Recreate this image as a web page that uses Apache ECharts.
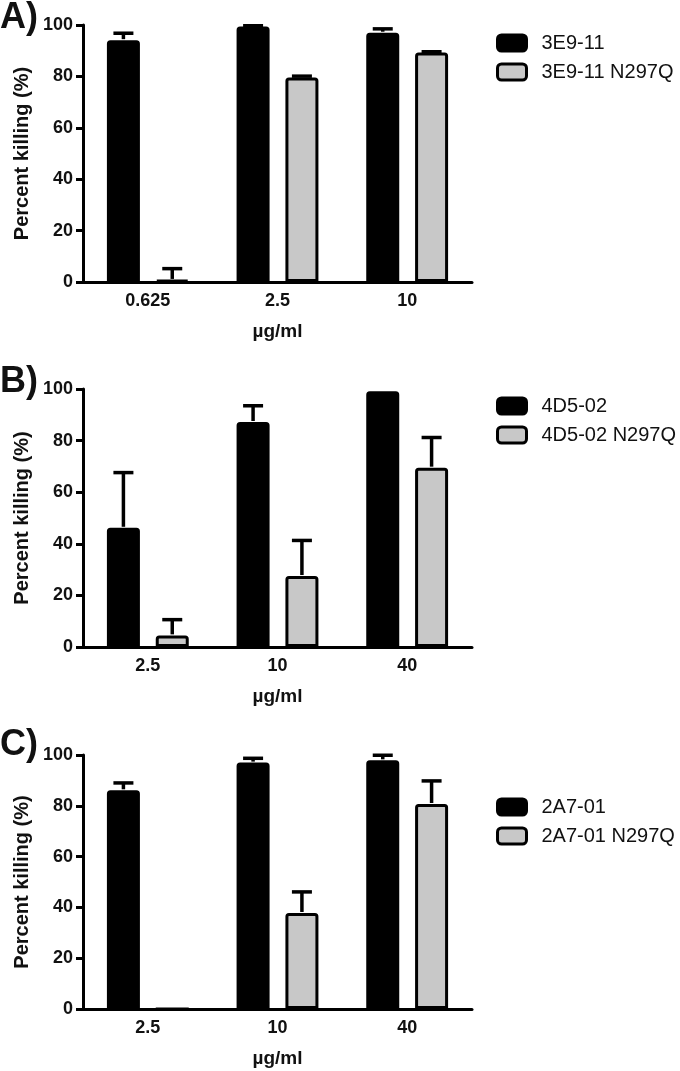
<!DOCTYPE html>
<html><head><meta charset="utf-8">
<script src="https://cdn.jsdelivr.net/npm/echarts@6/dist/echarts.min.js"></script>
<style>html,body{margin:0;padding:0;background:#fff}#c{width:680px;height:1071px}</style>
</head><body><div id="c"></div>
<script>
// ---- data ----
const catsA = ['0.625', '2.5', '10'];
const catsB = ['2.5', '10', '40'];
const catsC = ['2.5', '10', '40'];
const namesA = ['3E9-11', '3E9-11 N297Q'];
const namesB = ['4D5-02', '4D5-02 N297Q'];
const namesC = ['2A7-01', '2A7-01 N297Q'];
const wtA = [94.1, 99.4, 97.0];
const wtErrA = [2.7, 0.3, 1.5];
const mutA = [0.8, 79.6, 89.3];
const mutErrA = [4.4, 0.5, 0.3];
const wtB = [46.2, 87.2, 99.1];
const wtErrB = [21.4, 6.3, 0];
const mutB = [4.5, 27.5, 69.5];
const mutErrB = [6.1, 13.8, 11.7];
const wtC = [86.1, 97.0, 97.9];
const wtErrC = [2.9, 1.7, 2.0];
const mutC = [0, 37.8, 80.7];
const mutErrC = [0, 8.3, 9.1];
const yTicks = [0, 20, 40, 60, 80, 100];
const panelLabels = ['A)', 'B)', 'C)'];
const xName = 'µg/ml';
const yName = 'Percent killing (%)';

// ---- layout ----
const FONT = 'Liberation Sans, Arial, Helvetica, sans-serif';
const INK = '#111';
const BLACK = '#000';
const GREY = '#c8c8c8';
const layouts = [
  {top: 25, height: 257, legendTop: 33, labelY: 20},
  {top: 389, height: 258, legendTop: 396, labelY: 384},
  {top: 755, height: 254, legendTop: 797, labelY: 747}
];
const panels = [
  {cats: catsA, names: namesA, wt: wtA, wtErr: wtErrA, mut: mutA, mutErr: mutErrA},
  {cats: catsB, names: namesB, wt: wtB, wtErr: wtErrB, mut: mutB, mutErr: mutErrB},
  {cats: catsC, names: namesC, wt: wtC, wtErr: wtErrC, mut: mutC, mutErr: mutErrC}
];

const BAR_W = 33, BAR_GAP = '48%';
const OFFSET = (BAR_W + BAR_W * 0.48) / 2;

function errRender(sign) {
  return function (params, api) {
    const top = api.value(2), v = api.value(1);
    if (top - v <= 0.01) return null;
    const p0 = api.coord([api.value(0), v]);
    const p1 = api.coord([api.value(0), top]);
    const x = p0[0] + sign * OFFSET;
    const st = {stroke: BLACK, lineWidth: 3.5, lineCap: 'butt'};
    return {
      type: 'group', children: [
        {type: 'line', shape: {x1: x, y1: p0[1] - 1, x2: x, y2: p1[1]}, style: st},
        {type: 'line', shape: {x1: x - 10, y1: p1[1], x2: x + 10, y2: p1[1]}, style: st}
      ]
    };
  };
}

const grid = [], xAxis = [], yAxis = [], series = [], legend = [], graphic = [];
panels.forEach((p, k) => {
  const L = layouts[k];
  grid.push({left: 83, top: L.top, width: 389, height: L.height});
  xAxis.push({
    type: 'category', gridIndex: k, data: p.cats,
    name: xName, nameLocation: 'middle', nameGap: 40,
    nameTextStyle: {fontFamily: FONT, fontSize: 19, fontWeight: 'bold', color: INK},
    axisLine: {lineStyle: {color: BLACK, width: 3}},
    axisTick: {alignWithLabel: true, length: 7, lineStyle: {color: BLACK, width: 3}},
    axisLabel: {fontFamily: FONT, fontSize: 18, fontWeight: 'bold', color: INK, margin: 10},
    splitLine: {show: false}
  });
  yAxis.push({
    type: 'value', gridIndex: k, min: yTicks[0], max: yTicks[yTicks.length - 1], interval: yTicks[1] - yTicks[0],
    name: yName, nameLocation: 'middle', nameGap: 48, nameRotate: 90,
    nameTextStyle: {fontFamily: FONT, fontSize: 20, fontWeight: 'bold', color: INK},
    axisLine: {show: true, lineStyle: {color: BLACK, width: 3}},
    axisTick: {show: true, length: 7, lineStyle: {color: BLACK, width: 3}},
    axisLabel: {fontFamily: FONT, fontSize: 18, fontWeight: 'bold', color: INK, margin: 10},
    splitLine: {show: false}
  });
  series.push({
    name: p.names[0], type: 'bar', xAxisIndex: k, yAxisIndex: k, data: p.wt,
    barWidth: BAR_W, barGap: BAR_GAP,
    itemStyle: {color: BLACK, borderColor: BLACK, borderWidth: 3, borderRadius: [2, 2, 0, 0]}
  });
  series.push({
    name: p.names[1], type: 'bar', xAxisIndex: k, yAxisIndex: k, data: p.mut,
    barWidth: BAR_W, barGap: BAR_GAP,
    itemStyle: {color: GREY, borderColor: BLACK, borderWidth: 3, borderRadius: [2, 2, 0, 0]}
  });
  series.push({
    type: 'custom', xAxisIndex: k, yAxisIndex: k, z: 5,
    renderItem: errRender(-1), encode: {x: 0, y: [1, 2]},
    data: p.wt.map((v, i) => [i, v, v + p.wtErr[i]])
  });
  series.push({
    type: 'custom', xAxisIndex: k, yAxisIndex: k, z: 5,
    renderItem: errRender(1), encode: {x: 0, y: [1, 2]},
    data: p.mut.map((v, i) => [i, v, v + p.mutErr[i]])
  });
  legend.push({
    orient: 'vertical', left: 496, top: L.legendTop, itemGap: 9, padding: 0,
    itemWidth: 29, itemHeight: 16, icon: 'roundRect',
    textStyle: {fontFamily: FONT, fontSize: 20, lineHeight: 20, color: INK, padding: [0, 0, 0, 10]},
    data: [
      {name: p.names[0], itemStyle: {color: BLACK, borderColor: BLACK, borderWidth: 3}},
      {name: p.names[1], itemStyle: {color: GREY, borderColor: BLACK, borderWidth: 3}}
    ]
  });
  graphic.push({
    type: 'text', left: 0, top: L.labelY - 20,
    style: {text: panelLabels[k], font: 'bold 36px ' + FONT, fill: INK}
  });
});

const chart = echarts.init(document.getElementById('c'), null, {renderer: 'canvas'});
chart.setOption({
  animation: false,
  backgroundColor: '#fff',
  grid, xAxis, yAxis, series, legend, graphic
});
</script>
</body></html>
